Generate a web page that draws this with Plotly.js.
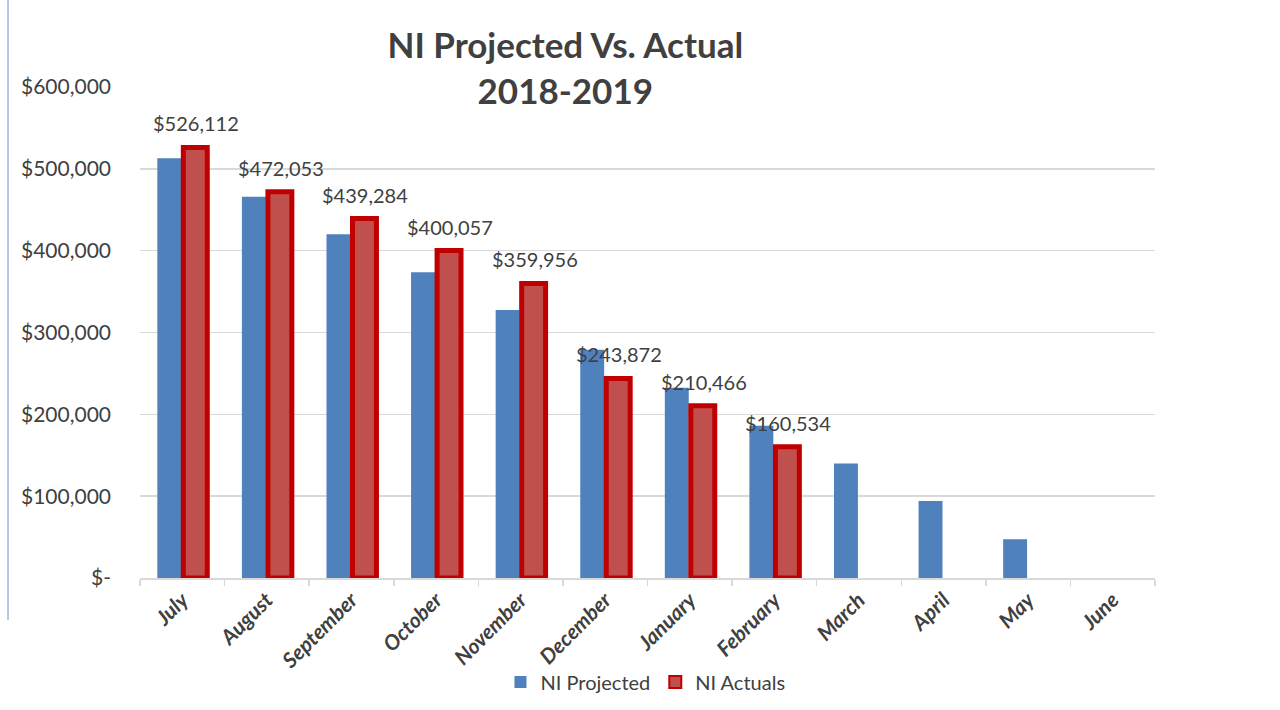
<!DOCTYPE html>
<html>
<head>
<meta charset="utf-8">
<script src="https://cdn.plot.ly/plotly-3.0.1.min.js"></script>
<style>html,body{margin:0;padding:0;background:#fff;}#chart{width:1280px;height:710px;}</style>
</head>
<body>
<div id="chart"></div>
<script>
const months = ["July","August","September","October","November","December","January","February","March","April","May","June"];
const projected = [513000, 466000, 420000, 373500, 327500, 279000, 232500, 186000, 140000, 94000, 47500, 0];
const actuals = [526112, 472053, 439284, 400057, 359956, 243872, 210466, 160534, null, null, null, null];
const yTickVals = [0, 100000, 200000, 300000, 400000, 500000, 600000];
const yTickText = ["$-", "$100,000", "$200,000", "$300,000", "$400,000", "$500,000", "$600,000"];

const FONT = "Lato, 'Liberation Sans', sans-serif";

const traces = [
  {
    type: "bar", name: "NI Projected", x: months, y: projected,
    marker: {color: "#4F81BD", line: {width: 0}},
    hoverinfo: "x+y"
  },
  {
    type: "bar", name: "NI Actuals", x: months, y: actuals,
    marker: {color: "#C0504D", line: {color: "#C00000", width: 5}}
  }
];

const labelAnnotations = [];
months.forEach((m, i) => {
  if (actuals[i] === null) return;
  labelAnnotations.push({
    x: m, y: actuals[i], xref: "x", yref: "y",
    text: "$" + actuals[i].toLocaleString("en-US"),
    showarrow: false, xanchor: "center", yanchor: "bottom",
    xshift: 14, yshift: 10,
    font: {family: FONT, size: 20, color: "#404040"}
  });
});

const layout = {
  width: 1280, height: 710,
  paper_bgcolor: "#ffffff", plot_bgcolor: "#ffffff",
  margin: {l: 140, r: 125, t: 87, b: 132, autoexpand: false},
  font: {family: FONT, color: "#404040"},
  title: {
    text: "<b>NI Projected Vs. Actual<br>2018-2019</b>",
    font: {family: FONT, size: 35, color: "#404040"},
    x: 0.419, xanchor: "center", xref: "paper",
    yref: "container", y: 0.918, yanchor: "top"
  },
  barmode: "group", bargap: 0.385, bargroupgap: 0.08,
  xaxis: {
    type: "category", tickangle: -45, automargin: false,
    tickfont: {family: FONT, size: 21, color: "#404040", weight: "bold", style: "italic"},
    showline: true, linecolor: "#d9d9d9", linewidth: 1.5,
    ticks: "outside", tickson: "boundaries", ticklen: 6, tickcolor: "#d9d9d9", tickwidth: 1.5,
    showgrid: false, fixedrange: true
  },
  yaxis: {
    range: [0, 600000], tickvals: yTickVals, ticktext: yTickText, automargin: false,
    tickfont: {family: FONT, size: 21, color: "#404040"},
    showgrid: true, gridcolor: "#d9d9d9", gridwidth: 1.5,
    zeroline: false, showline: false, ticks: "", ticklabelstandoff: 28,
    fixedrange: true
  },
  showlegend: true,
  legend: {
    orientation: "h", x: 0.498, xanchor: "center", y: -0.212, yanchor: "middle",
    font: {family: FONT, size: 20, color: "#404040"},
    itemsizing: "constant", itemwidth: 30, bgcolor: "rgba(0,0,0,0)"
  },
  annotations: labelAnnotations,
  shapes: [
    {type: "line", xref: "paper", yref: "paper", x0: -0.130, x1: -0.130, y0: 1.177, y1: -0.0855,
     line: {color: "#b4c7e7", width: 2}}
  ]
};

Plotly.newPlot("chart", traces, layout, {displayModeBar: false, staticPlot: true});
</script>
</body>
</html>
